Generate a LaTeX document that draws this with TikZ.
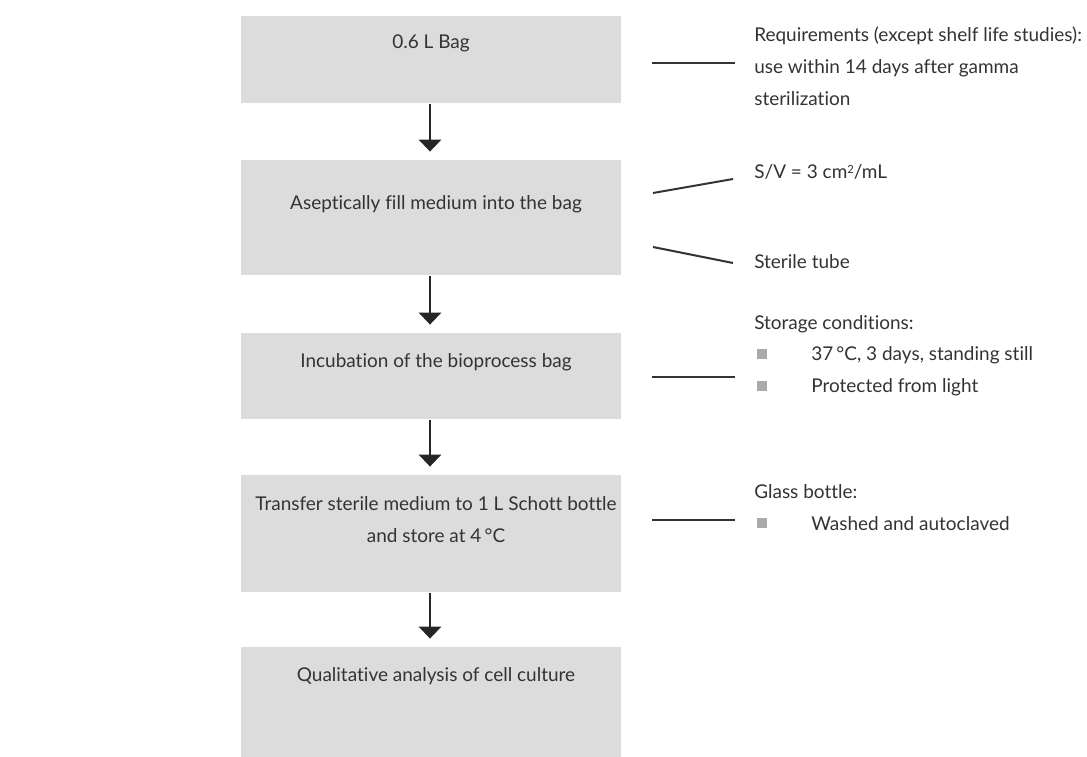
\documentclass[tikz,border=0pt]{standalone}
\usepackage{fontspec}
\setmainfont{Lato}[Ligatures=NoCommon]
\usetikzlibrary{arrows.meta,positioning}
\definecolor{boxgray}{HTML}{DCDCDC}
\definecolor{txtgray}{HTML}{333333}
\definecolor{bulgray}{HTML}{AAAAAA}
\tikzset{
	stepbox/.style={fill=boxgray, draw=none, minimum width=9.5cm, anchor=north, inner sep=0pt},
	steptext/.style={text=txtgray, align=center, inner sep=0pt, font=\fontsize{13.5}{22.7}\selectfont},
	flowarrow/.style={-{Triangle[width=16pt,length=8.5pt]}, line width=1pt, black!85, shorten >=6pt},
	noteline/.style={txtgray, line width=1.4pt},
	note/.style={anchor=west, inner sep=0pt, text=txtgray, align=left, font=\fontsize{13.5}{22.7}\selectfont},
	bulletsq/.style={fill=bulgray, inner sep=0pt, minimum size=7pt},
}
\begin{document}
\begin{tikzpicture}[x=0.025cm, y=-0.025cm]
	\useasboundingbox (0,0) rectangle (1087,757);
	% process steps
	\node[stepbox, minimum height=2.175cm] (bag) at (431,16) {};
	\node[stepbox, minimum height=2.875cm] (fill) at (431,160) {};
	\node[stepbox, minimum height=2.15cm] (incub) at (431,333) {};
	\node[stepbox, minimum height=2.925cm] (transf) at (431,475) {};
	\node[stepbox, minimum height=2.75cm] (anal) at (431,647) {};
	\node[steptext] (bagt) at (431,43) {0.6 L Bag};
	\node[steptext] (fillt) at (436,204) {Aseptically fill medium into the bag};
	\node[steptext] (incubt) at (436,362) {Incubation of the bioprocess bag};
	\node[steptext] (transft) at (436,520) {Transfer sterile medium to 1 L Schott bottle\\and store at 4\,°C};
	\node[steptext] (analt) at (436,676) {Qualitative analysis of cell culture};
	\foreach \a/\b in {bag/fill,fill/incub,incub/transf,transf/anal}
	\draw[flowarrow] (\a.south -| 430,0) -- (\b.north -| 430,0);
	% notes
	\node[note] (req) at (754,66) {Requirements (except shelf life studies):\\use within 14 days after gamma\\sterilization};
	\node[note] (sv) at (754,172) {S/V = 3 cm{\footnotesize\raisebox{0.9ex}{2}}/mL};
	\node[note] (tube) at (754,262) {Sterile tube};
	\node[note] (stor) at (754,324) {Storage conditions:};
	\node[note] (stor1) at (811,355) {37\,°C, 3 days, standing still};
	\node[note] (stor2) at (811,387) {Protected from light};
	\node[note] (glass) at (754,492) {Glass bottle:};
	\node[note] (glass1) at (811,524) {Washed and autoclaved};
	\foreach \y in {354,386,523}
	\node[bulletsq] at (762,\y) {};
	% leader lines
	\coordinate (l1a) at (652,63);  \coordinate (l1b) at (735,63);
	\coordinate (l2a) at (653,193); \coordinate (l2b) at (733,179);
	\coordinate (l3a) at (653,247); \coordinate (l3b) at (733,263);
	\coordinate (l4a) at (652,377); \coordinate (l4b) at (735,377);
	\coordinate (l5a) at (652,520); \coordinate (l5b) at (735,520);
	\foreach \n in {1,...,5}
	\draw[noteline] (l\n a) -- (l\n b);
\end{tikzpicture}
\end{document}
